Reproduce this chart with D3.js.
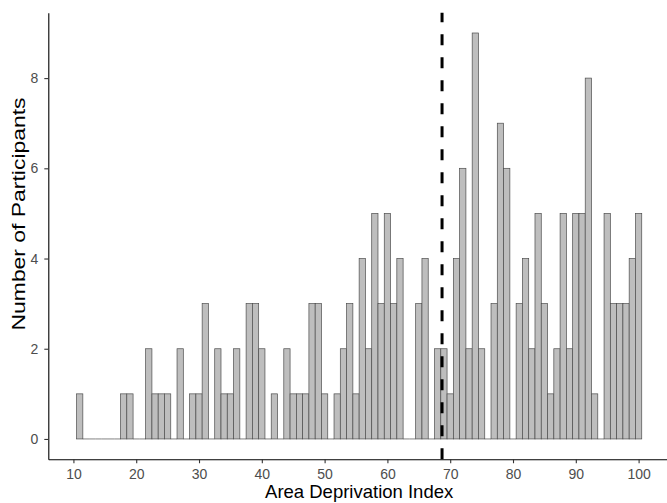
<!DOCTYPE html>
<html>
<head>
    <meta charset="utf-8">
    <style>
        body {
            margin: 0;
            background: #fff;
        }

        svg {
            font-family: 'Liberation Sans', Arial, sans-serif;
        }

        .axis text {
            fill: #4d4d4d;
            font-size: 14px;
        }

        .axis .domain {
            stroke: #000;
            stroke-width: 1.1;
        }

        .axis .tick line {
            stroke: #333;
            stroke-width: 1.1;
        }

        .title {
            font-size: 18.5px;
            fill: #000;
        }
    </style>
    <title>Area Deprivation Index</title>
</head>

<body>
    <svg width="667" height="503"></svg>
</body>

<script src="https://d3js.org/d3.v7.min.js"></script>
<script>
    // one bin per integer ADI value
    let binCentres = [11, 12, 13, 14, 15, 16, 17, 18, 19, 20,
        21, 22, 23, 24, 25, 26, 27, 28, 29, 30,
        31, 32, 33, 34, 35, 36, 37, 38, 39, 40,
        41, 42, 43, 44, 45, 46, 47, 48, 49, 50,
        51, 52, 53, 54, 55, 56, 57, 58, 59, 60,
        61, 62, 63, 64, 65, 66, 67, 68, 69, 70,
        71, 72, 73, 74, 75, 76, 77, 78, 79, 80,
        81, 82, 83, 84, 85, 86, 87, 88, 89, 90,
        91, 92, 93, 94, 95, 96, 97, 98, 99, 100]
    let counts = [1, 0, 0, 0, 0, 0, 0, 1, 1, 0,
        0, 2, 1, 1, 1, 0, 2, 0, 1, 1,
        3, 0, 2, 1, 1, 2, 0, 3, 3, 2,
        0, 1, 0, 2, 1, 1, 1, 3, 3, 1,
        0, 1, 2, 3, 1, 4, 2, 5, 3, 5,
        3, 4, 0, 0, 3, 4, 0, 2, 2, 1,
        4, 6, 2, 9, 2, 0, 3, 7, 6, 0,
        3, 4, 2, 5, 3, 1, 2, 5, 2, 5,
        5, 8, 1, 0, 5, 3, 3, 3, 4, 5]
    let xTicks = [10, 20, 30, 40, 50, 60, 70, 80, 90, 100]
    let yTicks = [0, 2, 4, 6, 8]
    let cutoff = 68.7

    let svg = d3.select("svg")
    let panelLeft = 48.3, panelRight = 670, panelTop = 12.7, panelBottom = 459.25

    let x = d3.scaleLinear().domain([6, 105]).range([panelLeft, panelRight])
    let y = d3.scaleLinear().domain([-0.45, 9.45]).range([panelBottom, panelTop])

    let bins = binCentres.map((c, i) => ({ c: c, n: counts[i] }))

    svg.append('g')
        .selectAll('rect')
        .data(bins)
        .join('rect')
        .attr('x', d => x(d.c - 0.5))
        .attr('width', d => x(d.c + 0.5) - x(d.c - 0.5))
        .attr('y', d => y(d.n))
        .attr('height', d => y(0) - y(d.n))
        .attr('fill', '#bebebe')
        .attr('stroke', '#4d4d4d')
        .attr('stroke-width', 0.7)

    // ggplot draws the empty bins as a flat outline
    svg.append('g')
        .selectAll('line')
        .data(bins.filter(d => d.n == 0))
        .join('line')
        .attr('x1', d => x(d.c - 0.5))
        .attr('x2', d => x(d.c + 0.5))
        .attr('y1', y(0))
        .attr('y2', y(0))
        .attr('stroke', '#4d4d4d')
        .attr('stroke-width', 0.7)

    svg.append('line')
        .attr('x1', x(cutoff))
        .attr('x2', x(cutoff))
        .attr('y1', panelBottom)
        .attr('y2', panelTop)
        .attr('stroke', '#000')
        .attr('stroke-width', 3)
        .attr('stroke-dasharray', '11,12')

    svg.append('g')
        .attr('class', 'axis')
        .attr('transform', `translate(0,${panelBottom})`)
        .call(d3.axisBottom(x).tickValues(xTicks).tickSize(4).tickSizeOuter(0).tickPadding(6))

    svg.append('g')
        .attr('class', 'axis')
        .attr('transform', `translate(${panelLeft},0)`)
        .call(d3.axisLeft(y).tickValues(yTicks).tickSize(4).tickSizeOuter(0).tickPadding(6))

    svg.append('text')
        .attr('class', 'title')
        .attr('x', (panelLeft + panelRight) / 2)
        .attr('y', 498)
        .attr('text-anchor', 'middle')
        .text('Area Deprivation Index')

    // the y title in the picture is drawn longer than the x one
    svg.append('text')
        .attr('class', 'title')
        .attr('transform', 'translate(25,214) rotate(-90)')
        .attr('text-anchor', 'middle')
        .attr('textLength', 233)
        .attr('lengthAdjust', 'spacingAndGlyphs')
        .text('Number of Participants')
</script>
</html>
